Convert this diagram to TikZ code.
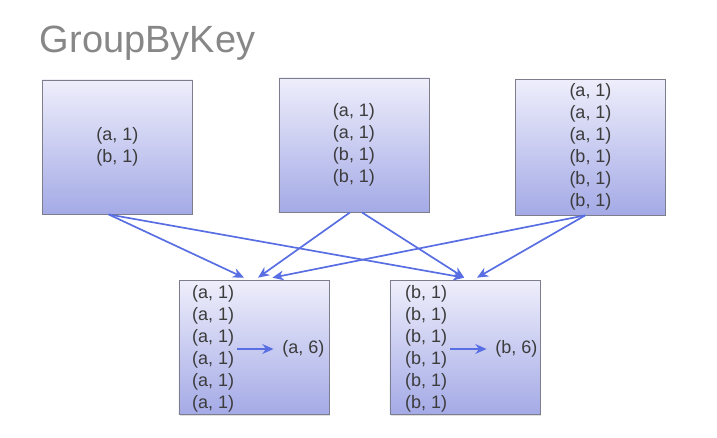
\documentclass[tikz,border=0pt]{standalone}
\usepackage{fontspec}
\setmainfont{Liberation Sans}
\usetikzlibrary{arrows.meta, positioning, shadows}
\definecolor{boxtop}{RGB}{238,238,251}
\definecolor{boxbot}{RGB}{164,170,230}
\definecolor{boxline}{RGB}{125,125,140}
\definecolor{flow}{RGB}{88,110,226}
\definecolor{txt}{RGB}{60,60,60}
\definecolor{titlegray}{RGB}{135,135,135}

\begin{document}
\begin{tikzpicture}[x=0.025cm, y=-0.025cm,
  part/.style={draw=boxline, line width=0.6pt, top color=boxtop, bottom color=boxbot,
    minimum width=3.75cm, minimum height=3.35cm, align=center, text=txt,
    font=\fontsize{12.8}{15.6}\selectfont,
    drop shadow={opacity=0.25, shadow xshift=0.5pt, shadow yshift=-0.8pt}},
  pairs/.style={align=left, text=txt, inner sep=2pt, font=\fontsize{12.8}{15.6}\selectfont},
  flowline/.style={-{Stealth[length=8pt, width=7pt]}, draw=flow, line width=1.2pt}]
\useasboundingbox (0,0) rectangle (717,437);

\node[anchor=base west, text=titlegray, font=\fontsize{27}{31}\selectfont] (title) at (35,52) {GroupByKey};

% input partitions
\node[part] (p1) at (117.5,147) {(a, 1)\\(b, 1)};
\node[part] (p2) at (354,145) {(a, 1)\\(a, 1)\\(b, 1)\\(b, 1)};
\node[part] (p3) at (590.5,147) {(a, 1)\\(a, 1)\\(a, 1)\\(b, 1)\\(b, 1)\\(b, 1)};

% grouped outputs
\node[part] (g1) at (254,347.5) {};
\node[part] (g2) at (465,347.5) {};
\node[pairs, anchor=west] (l1) at (189,349) {(a, 1)\\(a, 1)\\(a, 1)\\(a, 1)\\(a, 1)\\(a, 1)};
\node[pairs, right=1.05cm of l1] (r1) {(a, 6)};
\node[pairs, anchor=west] (l2) at (402,349) {(b, 1)\\(b, 1)\\(b, 1)\\(b, 1)\\(b, 1)\\(b, 1)};
\node[pairs, right=1.05cm of l2] (r2) {(b, 6)};

\draw[flowline] ([xshift=-0.22cm]p1.south) -- ([xshift=-0.25cm, yshift=0.06cm]g1.north);
\draw[flowline] ([xshift=-0.22cm]p1.south) -- ([xshift=-0.02cm, yshift=0.06cm]g2.north);
\draw[flowline] ([xshift=-0.1cm]p2.south) -- ([xshift=0.1cm, yshift=0.06cm]g1.north);
\draw[flowline] ([xshift=0.2cm]p2.south) -- ([xshift=-0.02cm, yshift=0.06cm]g2.north);
\draw[flowline] ([xshift=-0.13cm]p3.south) -- ([xshift=0.46cm, yshift=0.06cm]g1.north);
\draw[flowline] ([xshift=-0.13cm]p3.south) -- ([xshift=0.3cm, yshift=0.06cm]g2.north);

\draw[flowline, shorten >=4pt] (l1.east) -- (r1.west);
\draw[flowline, shorten >=4pt] (l2.east) -- (r2.west);
\end{tikzpicture}
\end{document}
